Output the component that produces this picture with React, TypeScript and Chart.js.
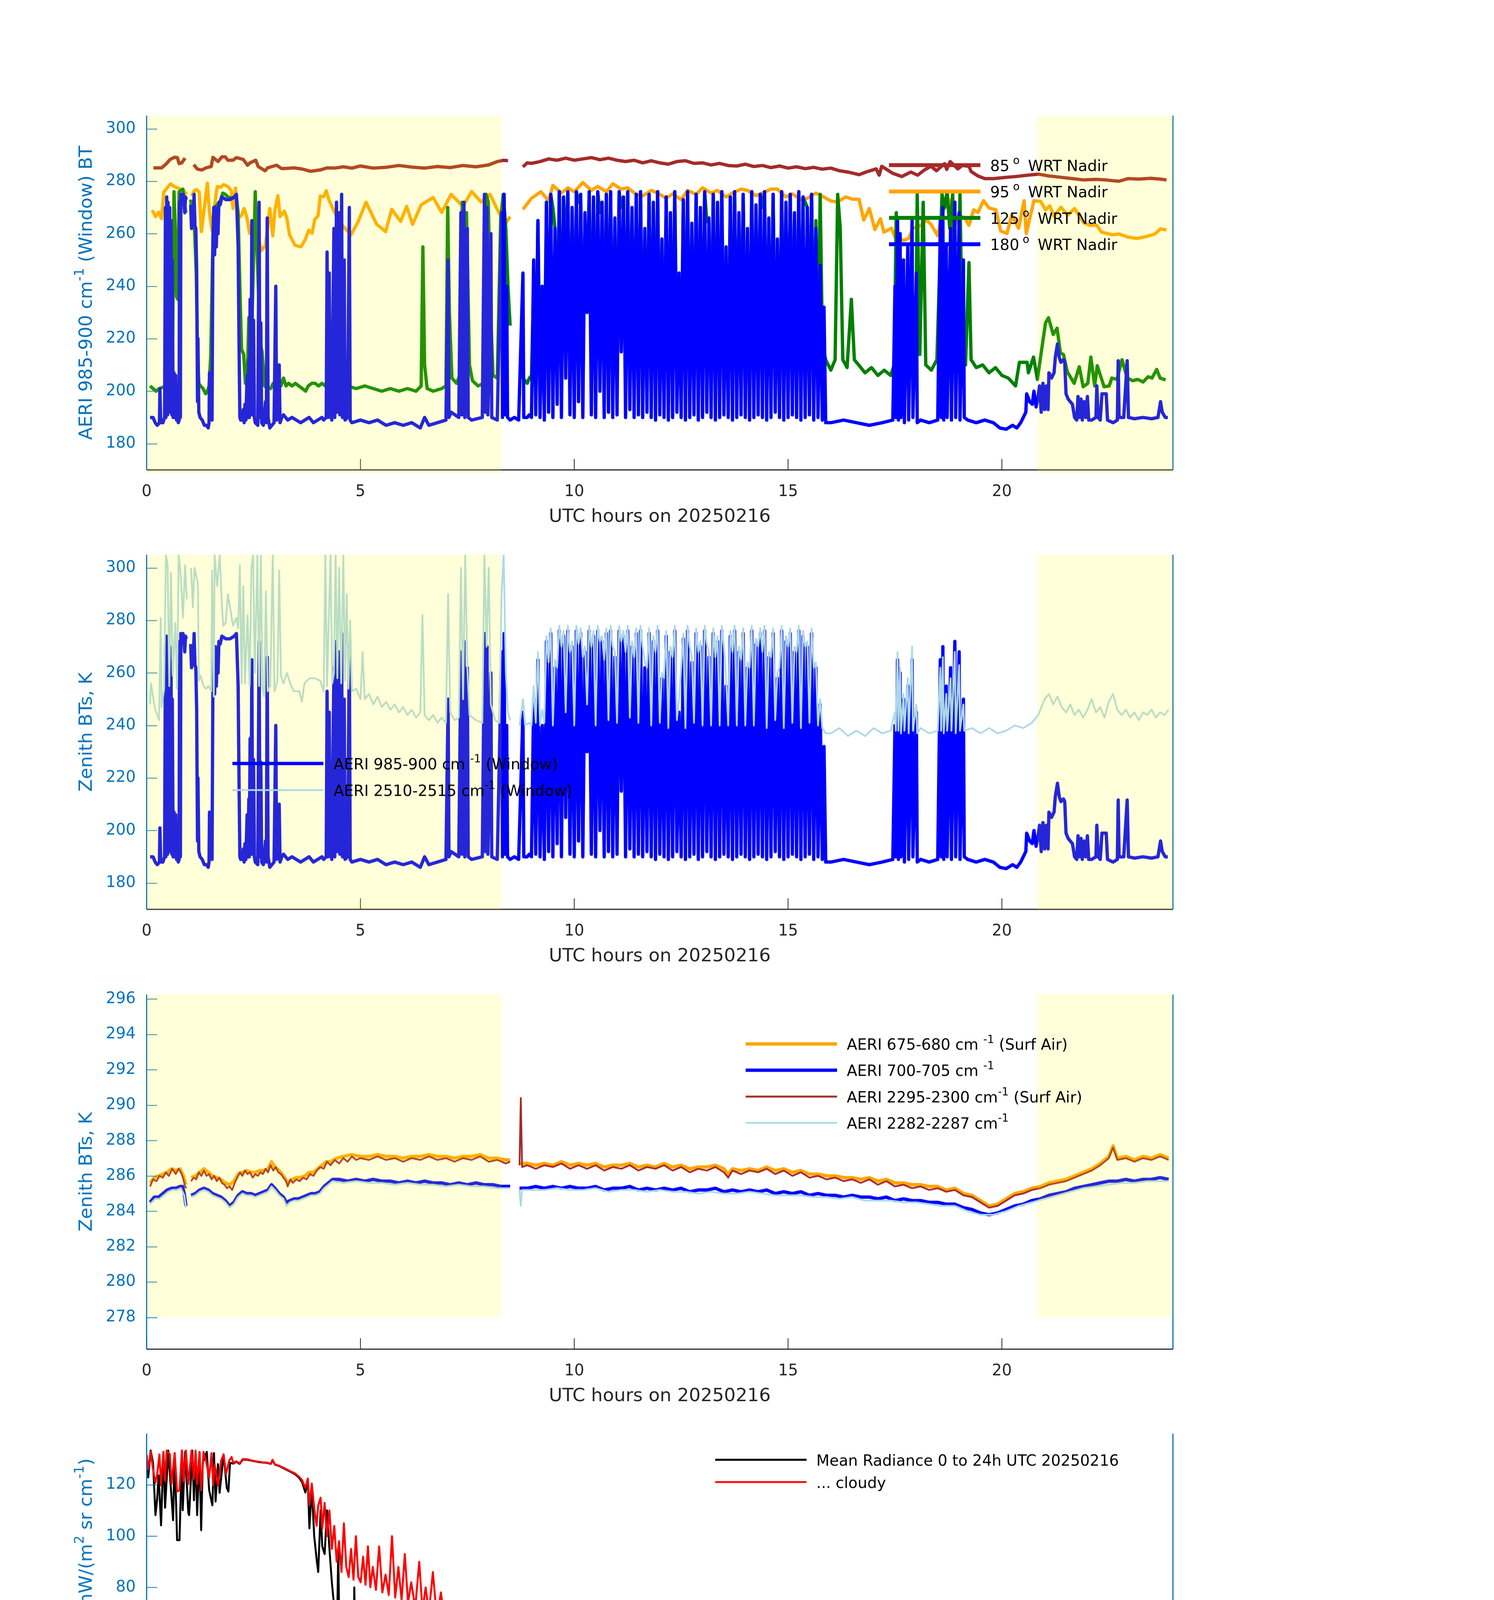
import React, { useEffect, useRef } from "react";
import { Chart, registerables } from "chart.js";
Chart.register(...registerables);

type P = [number, number | null];
type Run = { t: string; sup?: boolean };

// ---------------- Panel 1 & 2 : time series (UTC hours) ----------------
const HOUR_TICKS = [0, 5, 10, 15, 20];
const BT_TICKS = [180, 200, 220, 240, 260, 280, 300];

const bt85: P[] = [
  [0.16, 285.1], [0.35, 285.1], [0.45, 286.5], [0.55, 288.3], [0.65, 289.1], [0.72, 289], [0.76, 286.7], [0.82, 287], [0.9, 288.8], [0.96, null],
  [1.1, 286.3], [1.19, 284.6], [1.29, 284.3], [1.39, 285.1], [1.51, 285.6], [1.55, 289.1], [1.67, 287.5], [1.76, 289.3], [1.84, 289.3], [1.9, 288],
  [2.02, 288], [2.1, 289], [2.26, 288.3], [2.36, 286.1], [2.42, 287], [2.55, 288], [2.61, 285.6], [2.77, 284], [2.83, 285.1], [3.04, 286.1],
  [3.16, 284.8], [3.45, 285.1], [3.65, 284.6], [3.83, 283.8], [4.06, 284.3], [4.22, 285.1], [4.4, 285], [4.6, 285.5], [4.8, 285], [5.0, 285.8],
  [5.3, 285], [5.6, 285.3], [5.9, 286], [6.2, 285.4], [6.5, 285], [6.8, 285.6], [7.1, 285.2], [7.4, 286], [7.7, 285.5], [8.0, 286.2],
  [8.2, 287.5], [8.35, 288], [8.45, 287.8], [8.6, null],
  [8.8, 285.5], [8.9, 287], [9.0, 286.8], [9.2, 287.5], [9.4, 288.5], [9.6, 288], [9.8, 288.8], [10.0, 288], [10.2, 288.5], [10.4, 289],
  [10.6, 288.2], [10.8, 288.8], [11.0, 288], [11.2, 287.5], [11.4, 288], [11.6, 287], [11.8, 287.8], [12.0, 287], [12.2, 286.5], [12.4, 287.5],
  [12.6, 287.8], [12.8, 286.8], [13.0, 287], [13.2, 286.2], [13.4, 286.8], [13.6, 286], [13.8, 285.8], [14.0, 286.5], [14.2, 285.6], [14.4, 286],
  [14.6, 285.2], [14.8, 285.8], [15.0, 285], [15.2, 285.5], [15.4, 284.8], [15.6, 285.3], [15.8, 284.6], [16.0, 285], [16.2, 284], [16.4, 283.5],
  [16.66, 282.5], [16.82, 283.5], [17.06, 284.7], [17.13, 282.3], [17.19, 285.7], [17.45, 283], [17.66, 281.8], [17.87, 283.5], [18.03, 282.3], [18.18, 284.2],
  [18.34, 285.7], [18.47, 284], [18.66, 286.7], [18.71, 284.5], [18.79, 287.5], [18.97, 284.7], [19.07, 286], [19.23, 285.7], [19.28, 283.7], [19.44, 282],
  [19.6, 281], [19.81, 281], [20.05, 281.4], [20.33, 281.8], [20.6, 282.3], [20.86, 282.7], [21.1, 282], [21.38, 281.5], [21.65, 281], [21.91, 280.5],
  [22.2, 280.7], [22.43, 280.5], [22.6, 280.2], [22.74, 280], [22.95, 281], [23.2, 280.8], [23.48, 281.1], [23.7, 280.8], [23.85, 280.5],
];

const bt95: P[] = [
  [0.13, 269], [0.21, 266.5], [0.28, 268.2], [0.35, 265.7], [0.4, 275.8], [0.48, 277.5], [0.56, 279], [0.64, 278], [0.76, 277.2], [0.88, 276], [0.94, 275], [0.96, null],
  [1.05, 274.3], [1.12, 276.5], [1.17, 276.8], [1.23, 275.9], [1.28, 260.8], [1.35, 270], [1.42, 279.3], [1.47, 268], [1.53, 261.3], [1.6, 272],
  [1.65, 278], [1.73, 277.7], [1.8, 278.7], [1.9, 278], [1.98, 276.4], [2.02, 269.6], [2.08, 277.4], [2.14, 265.9], [2.22, 267], [2.28, 269.6],
  [2.34, 266.5], [2.41, 260.2], [2.47, 261.3], [2.55, 262.8], [2.62, 258], [2.68, 253.5], [2.78, 255.6], [2.88, 269.6], [2.95, 259.2], [3.0, 269],
  [3.07, 274.5], [3.12, 266.5], [3.22, 268.6], [3.28, 265.9], [3.34, 259.7], [3.47, 255.6], [3.61, 255], [3.71, 257.8], [3.79, 261.3], [3.87, 260.2],
  [3.93, 265.4], [4.01, 266.9], [4.06, 274.3], [4.14, 274.1], [4.2, 276.4], [4.26, 273], [4.4, 268], [4.55, 263.6], [4.78, 259.6], [4.95, 264.7],
  [5.13, 272], [5.38, 263.6], [5.59, 260.8], [5.73, 269.3], [5.94, 264.7], [6.08, 270.4], [6.22, 263.6], [6.42, 271], [6.7, 273.8], [6.9, 268.1],
  [7.12, 275], [7.4, 270.4], [7.6, 276.1], [7.82, 272.1], [8.03, 275], [8.2, 269.3], [8.38, 263.6], [8.5, 266.5], [8.6, null],
  [8.8, 269.3], [9.0, 273.5], [9.22, 276], [9.4, 272.5], [9.5, 278.4], [9.7, 275.5], [9.85, 277.5], [10.0, 276], [10.2, 279.5], [10.4, 276.5],
  [10.55, 278], [10.75, 276], [10.9, 279], [11.1, 277], [11.25, 277.5], [11.45, 275], [11.6, 274.4], [11.8, 276.5], [11.95, 275.5], [12.15, 273.5],
  [12.3, 275.2], [12.5, 273], [12.65, 276.5], [12.85, 275], [13.0, 277.5], [13.2, 275.5], [13.35, 276.5], [13.55, 274], [13.7, 275.5], [13.9, 277],
  [14.05, 276.5], [14.25, 274.5], [14.4, 275.5], [14.6, 277], [14.75, 277], [14.95, 274], [15.1, 275.2], [15.3, 273], [15.45, 273.5], [15.65, 275.5],
  [15.8, 274.3], [16.0, 272.5], [16.15, 272.1], [16.35, 274], [16.5, 273.2], [16.66, 273.1], [16.77, 265.2], [16.9, 269.6], [17.03, 261.6], [17.16, 265.7],
  [17.24, 260.6], [17.42, 262.1], [17.5, 258.7], [17.71, 257.5], [17.82, 258.2], [17.92, 262.1], [18.08, 262.9], [18.24, 265.2], [18.34, 263.6], [18.5, 259.2],
  [18.6, 267.6], [18.76, 273.1], [18.84, 259.2], [18.97, 267.1], [19.13, 266.1], [19.23, 263.2], [19.34, 269.1], [19.44, 268.1], [19.57, 272.6], [19.7, 269.8],
  [19.86, 269.1], [19.97, 261.1], [20.12, 260.1], [20.23, 267.1], [20.39, 262.1], [20.52, 272.6], [20.57, 260.1], [20.75, 272.6], [20.91, 272.3], [21.02, 269.1],
  [21.12, 270.6], [21.22, 266.6], [21.38, 270.1], [21.54, 267.1], [21.7, 269.6], [21.91, 264.2], [22.06, 263.2], [22.22, 263.2], [22.33, 260.6], [22.59, 259.6],
  [22.74, 259.9], [22.95, 258.7], [23.16, 258.2], [23.37, 258.9], [23.58, 259.9], [23.71, 261.9], [23.85, 261.4],
];

const bt125: P[] = [
  [0.08, 202], [0.15, 201], [0.22, 200], [0.3, 201], [0.38, 201.5], [0.45, 202], [0.52, 202.5], [0.58, 203], [0.61, 222], [0.64, 276], [0.67, 262],
  [0.7, 236], [0.73, 235], [0.76, 276], [0.8, 276.5], [0.85, 277], [0.88, 272], [0.92, 268], [0.96, null],
  [1.03, 273], [1.08, 266], [1.12, 262], [1.16, 245], [1.19, 215], [1.22, 203], [1.26, 202], [1.32, 201], [1.38, 199], [1.42, 200], [1.46, 202],
  [1.5, 214], [1.54, 250], [1.58, 270], [1.65, 271], [1.72, 272.5], [1.78, 275.5], [1.84, 275], [1.9, 274], [2.0, 273.5], [2.1, 274], [2.14, 268],
  [2.18, 240], [2.22, 216], [2.27, 214], [2.31, 203], [2.35, 203], [2.39, 228], [2.43, 228], [2.46, 224], [2.5, 250], [2.54, 276], [2.58, 255],
  [2.62, 236], [2.66, 218], [2.7, 215], [2.76, 202], [2.82, 201], [2.9, 201], [2.96, 203], [3.02, 200], [3.08, 204], [3.14, 202], [3.2, 205],
  [3.26, 202], [3.32, 203], [3.4, 202], [3.48, 203], [3.56, 202], [3.64, 201], [3.72, 200], [3.78, 202], [3.86, 203], [3.94, 203], [4.02, 202],
  [4.1, 203], [4.18, 202], [4.26, 206], [4.32, 203], [4.45, 202], [4.6, 205], [4.7, 202], [4.9, 201], [5.1, 202], [5.3, 201], [5.5, 200],
  [5.7, 201], [5.9, 200], [6.1, 201], [6.3, 200], [6.42, 202], [6.46, 255], [6.5, 210], [6.56, 201], [6.7, 200], [6.9, 201], [7.0, 202],
  [7.04, 270], [7.08, 230], [7.14, 205], [7.25, 203], [7.32, 206], [7.38, 272], [7.43, 245], [7.48, 268], [7.55, 210], [7.62, 204], [7.75, 202],
  [7.88, 203], [7.94, 275], [7.99, 272], [8.04, 232], [8.1, 206], [8.2, 205], [8.28, 266], [8.34, 275], [8.4, 262], [8.45, 240], [8.5, 225], [8.6, null],
  [8.75, 215], [8.8, 205], [8.9, 203], [8.95, 205],
  [9.0, 206], [9.05, 240], [9.1, 208], [9.15, 265], [9.2, 210], [9.25, 230], [9.3, 207], [9.35, 272], [9.4, 212], [9.45, 275], [9.5, 270],
  [9.55, 262], [9.6, 215], [9.65, 276], [9.7, 210], [9.75, 274], [9.8, 250], [9.85, 276], [9.9, 212], [9.95, 268], [10.0, 208], [10.05, 276],
  [10.1, 272], [10.15, 275], [10.2, 210], [10.25, 265], [10.3, 240], [10.35, 276], [10.4, 212], [10.45, 272], [10.5, 208], [10.55, 276], [10.6, 268],
  [10.65, 272], [10.7, 210], [10.75, 275], [10.8, 213], [10.85, 276], [10.9, 209], [10.95, 262], [11.0, 210], [11.05, 276], [11.1, 270], [11.15, 274],
  [11.2, 211], [11.25, 276], [11.3, 214], [11.35, 268], [11.4, 209], [11.45, 275], [11.5, 212], [11.55, 276], [11.6, 210], [11.65, 258], [11.7, 213],
  [11.75, 275], [11.8, 209], [11.85, 270], [11.9, 208], [11.95, 276], [12.0, 212], [12.05, 250], [12.1, 209], [12.15, 274], [12.2, 207], [12.25, 265],
  [12.3, 210], [12.35, 276], [12.4, 214], [12.45, 230], [12.5, 210], [12.55, 272], [12.6, 208], [12.65, 276], [12.7, 210], [12.75, 260], [12.8, 212],
  [12.85, 275], [12.9, 208], [12.95, 268], [13.0, 210], [13.05, 276], [13.1, 265], [13.15, 264], [13.2, 210], [13.25, 275], [13.3, 208], [13.35, 270],
  [13.4, 210], [13.45, 276], [13.5, 212], [13.55, 245], [13.6, 210], [13.65, 274], [13.7, 208], [13.75, 276], [13.8, 210], [13.85, 265], [13.9, 212],
  [13.95, 275], [14.0, 210], [14.05, 255], [14.1, 208], [14.15, 276], [14.2, 210], [14.25, 268], [14.3, 212], [14.35, 275], [14.4, 270], [14.45, 276],
  [14.5, 208], [14.55, 262], [14.6, 210], [14.65, 275], [14.7, 213], [14.75, 250], [14.8, 210], [14.85, 276], [14.9, 208], [14.95, 270], [15.0, 210],
  [15.05, 275], [15.1, 212], [15.15, 265], [15.2, 210], [15.25, 276], [15.3, 208], [15.35, 274], [15.4, 272], [15.45, 270], [15.5, 212], [15.55, 275],
  [15.6, 208], [15.65, 265], [15.7, 210], [15.75, 275], [15.8, 222], [15.84, 215], [15.88, 212],
  [16.0, 208], [16.1, 212], [16.16, 275], [16.22, 262], [16.28, 212], [16.38, 209], [16.48, 235], [16.55, 212], [16.65, 210], [16.8, 207], [16.95, 209],
  [17.1, 206], [17.25, 208], [17.4, 206], [17.48, 210], [17.53, 268], [17.58, 212], [17.7, 207], [17.85, 210], [17.98, 212], [18.02, 275], [18.08, 214],
  [18.16, 272], [18.22, 210], [18.35, 208], [18.48, 212], [18.56, 255], [18.6, 275], [18.66, 270], [18.72, 276], [18.78, 262], [18.85, 275], [18.9, 240],
  [18.96, 215], [19.02, 275], [19.08, 214], [19.15, 210], [19.23, 249], [19.28, 212], [19.4, 209], [19.55, 210], [19.7, 207], [19.85, 209], [20.0, 206],
  [20.15, 205], [20.32, 202], [20.41, 211], [20.59, 211], [20.62, 207], [20.74, 213], [20.83, 204.5], [21.02, 226], [21.09, 228], [21.2, 221.6],
  [21.29, 224], [21.37, 214.5], [21.44, 214], [21.53, 207.4], [21.69, 203], [21.81, 209.3], [21.9, 201.7], [22.01, 203], [22.08, 213], [22.17, 202],
  [22.23, 209.7], [22.39, 201.7], [22.51, 202], [22.57, 205], [22.69, 204.5], [22.81, 212], [22.93, 205], [23.06, 204], [23.18, 204.5], [23.3, 203.5],
  [23.42, 205.5], [23.51, 205], [23.62, 208.3], [23.7, 205], [23.83, 204.3],
];

const bt180: P[] = [
  [0.08, 190], [0.15, 190], [0.2, 188], [0.25, 187], [0.3, 188], [0.31, 201], [0.33, 188], [0.38, 188], [0.42, 190], [0.44, 270], [0.45, 190],
  [0.47, 274], [0.49, 191], [0.5, 272], [0.52, 192], [0.54, 270], [0.55, 192], [0.57, 265], [0.59, 191], [0.6, 250], [0.62, 190], [0.64, 207],
  [0.66, 190], [0.68, 206], [0.7, 189], [0.72, 190], [0.74, 188], [0.76, 189], [0.77, 272], [0.79, 190], [0.8, 275], [0.82, 274], [0.85, 275],
  [0.87, 273], [0.89, 268], [0.91, 274], [0.93, 273], [0.96, null],
  [1.03, 271], [1.05, 262], [1.07, 268], [1.09, 263], [1.11, 275], [1.13, 263], [1.15, 262], [1.17, 246], [1.19, 196], [1.2, 220], [1.22, 192],
  [1.25, 190], [1.3, 189], [1.35, 187], [1.4, 187], [1.44, 186], [1.46, 188], [1.47, 207], [1.49, 195], [1.51, 190], [1.53, 189], [1.55, 258],
  [1.57, 270], [1.59, 252], [1.61, 270], [1.63, 255], [1.65, 268], [1.67, 260], [1.69, 272], [1.72, 271], [1.76, 274], [1.85, 273], [1.95, 273],
  [2.05, 274], [2.1, 275], [2.12, 265], [2.14, 255], [2.16, 220], [2.18, 190], [2.2, 189], [2.24, 189], [2.26, 193], [2.28, 188], [2.3, 195],
  [2.32, 189], [2.35, 206], [2.37, 190], [2.39, 212], [2.4, 190], [2.42, 235], [2.44, 191], [2.46, 265], [2.48, 191], [2.5, 227], [2.52, 190],
  [2.54, 188], [2.6, 187], [2.63, 272], [2.65, 190], [2.67, 226], [2.69, 188], [2.73, 187], [2.78, 196], [2.8, 188], [2.82, 266], [2.84, 190],
  [2.88, 186], [2.93, 187], [2.98, 188], [3.02, 240], [3.04, 189], [3.08, 190], [3.1, 210], [3.12, 188], [3.16, 190], [3.2, 191], [3.3, 189],
  [3.4, 190], [3.5, 189], [3.6, 188], [3.7, 189], [3.8, 190], [3.9, 188], [4.0, 189], [4.1, 190], [4.14, 189], [4.2, 190], [4.22, 253],
  [4.24, 190], [4.27, 245], [4.29, 192], [4.33, 189], [4.38, 262], [4.4, 190], [4.44, 272], [4.46, 192], [4.5, 268], [4.52, 191], [4.56, 275],
  [4.58, 190], [4.62, 250], [4.64, 189], [4.7, 190], [4.74, 270], [4.76, 189], [4.8, 188], [5.0, 189], [5.2, 188], [5.4, 189], [5.6, 187],
  [5.8, 188], [6.0, 187], [6.2, 188], [6.4, 186], [6.5, 190], [6.6, 187], [6.8, 188], [7.0, 189], [7.05, 250], [7.07, 190], [7.12, 192],
  [7.3, 190], [7.35, 268], [7.37, 191], [7.42, 272], [7.44, 190], [7.5, 262], [7.52, 190], [7.6, 189], [7.85, 190], [7.9, 275], [7.92, 192],
  [7.96, 270], [7.98, 191], [8.05, 260], [8.07, 190], [8.2, 189], [8.3, 268], [8.32, 190], [8.36, 275], [8.38, 191], [8.42, 240], [8.44, 190],
  [8.5, 189], [8.6, 190], [8.7, 189], [8.8, 245], [8.82, 190], [8.9, 190], [8.95, 191],
  [9.0, 190], [9.05, 250], [9.1, 191], [9.15, 265], [9.2, 190], [9.25, 240], [9.3, 189], [9.35, 272], [9.4, 192], [9.45, 275], [9.5, 190],
  [9.55, 262], [9.6, 195], [9.65, 276], [9.7, 190], [9.75, 274], [9.8, 205], [9.85, 276], [9.9, 191], [9.95, 270], [10.0, 190], [10.05, 276],
  [10.1, 196], [10.15, 275], [10.2, 190], [10.25, 268], [10.3, 230], [10.35, 276], [10.4, 191], [10.45, 274], [10.5, 190], [10.55, 276], [10.6, 200],
  [10.65, 272], [10.7, 190], [10.75, 275], [10.8, 192], [10.85, 276], [10.9, 190], [10.95, 266], [11.0, 191], [11.05, 276], [11.1, 215], [11.15, 274],
  [11.2, 190], [11.25, 276], [11.3, 193], [11.35, 270], [11.4, 190], [11.45, 275], [11.5, 191], [11.55, 276], [11.6, 190], [11.65, 262], [11.7, 192],
  [11.75, 275], [11.8, 190], [11.85, 272], [11.9, 189], [11.95, 276], [12.0, 191], [12.05, 258], [12.1, 190], [12.15, 274], [12.2, 189], [12.25, 268],
  [12.3, 190], [12.35, 276], [12.4, 192], [12.45, 245], [12.5, 190], [12.55, 273], [12.6, 189], [12.65, 276], [12.7, 190], [12.75, 264], [12.8, 191],
  [12.85, 275], [12.9, 189], [12.95, 270], [13.0, 190], [13.05, 276], [13.1, 192], [13.15, 266], [13.2, 190], [13.25, 275], [13.3, 189], [13.35, 272],
  [13.4, 190], [13.45, 276], [13.5, 191], [13.55, 255], [13.6, 190], [13.65, 274], [13.7, 189], [13.75, 276], [13.8, 190], [13.85, 268], [13.9, 191],
  [13.95, 275], [14.0, 190], [14.05, 262], [14.1, 189], [14.15, 276], [14.2, 190], [14.25, 271], [14.3, 191], [14.35, 275], [14.4, 190], [14.45, 276],
  [14.5, 189], [14.55, 266], [14.6, 190], [14.65, 275], [14.7, 192], [14.75, 258], [14.8, 190], [14.85, 276], [14.9, 189], [14.95, 272], [15.0, 190],
  [15.05, 275], [15.1, 191], [15.15, 268], [15.2, 190], [15.25, 276], [15.3, 189], [15.35, 274], [15.4, 190], [15.45, 270], [15.5, 191], [15.55, 275],
  [15.6, 189], [15.65, 262], [15.7, 190], [15.75, 248], [15.8, 189], [15.84, 232], [15.88, 188],
  [16.0, 188], [16.3, 189], [16.6, 188], [16.9, 187], [17.2, 188], [17.45, 189], [17.5, 240], [17.52, 190], [17.56, 265], [17.58, 189], [17.62, 260],
  [17.64, 190], [17.7, 250], [17.72, 188], [17.8, 255], [17.82, 189], [17.9, 265], [17.92, 190], [18.0, 245], [18.02, 188], [18.1, 189], [18.3, 188],
  [18.5, 189], [18.56, 265], [18.58, 190], [18.62, 270], [18.64, 189], [18.7, 255], [18.72, 190], [18.8, 262], [18.82, 189], [18.9, 272], [18.92, 190],
  [19.0, 268], [19.02, 189], [19.1, 250], [19.12, 190], [19.2, 189], [19.4, 188], [19.6, 189], [19.8, 188], [19.95, 186], [20.1, 185.5], [20.25, 187],
  [20.35, 186], [20.44, 188], [20.5, 190], [20.56, 192], [20.58, 199], [20.65, 196], [20.71, 195], [20.75, 200], [20.8, 194], [20.85, 198], [20.88, 202],
  [20.92, 192], [20.96, 203], [21.0, 193], [21.04, 202], [21.08, 193], [21.1, 207], [21.16, 205], [21.22, 207], [21.25, 213], [21.3, 218], [21.34, 213],
  [21.38, 211], [21.44, 212], [21.47, 211], [21.5, 199], [21.55, 197], [21.6, 196], [21.65, 195], [21.7, 190], [21.75, 189], [21.78, 198], [21.81, 190],
  [21.85, 197], [21.88, 189], [21.92, 196], [21.96, 190], [22.0, 198], [22.03, 189], [22.1, 189], [22.2, 190], [22.22, 202], [22.25, 190], [22.3, 189],
  [22.34, 199], [22.44, 199], [22.47, 189], [22.6, 188], [22.7, 189], [22.72, 211.6], [22.74, 190], [22.85, 190], [22.93, 211.6], [22.96, 190], [23.1, 189.5],
  [23.3, 190], [23.5, 189.5], [23.65, 190], [23.71, 196], [23.75, 192], [23.82, 190], [23.88, 190],
];

const bt2510: P[] = [
  [0.08, 248], [0.1, 256], [0.15, 251], [0.2, 246], [0.25, 244], [0.29, 242], [0.33, 281], [0.35, 247], [0.41, 254], [0.45, 305], [0.49, 301],
  [0.53, 255], [0.57, 298], [0.61, 259], [0.67, 279], [0.71, 254], [0.75, 305], [0.79, 299], [0.85, 281], [0.9, 301], [0.94, 288], [0.96, null],
  [1.04, 300], [1.08, 285], [1.12, 300], [1.2, 294], [1.22, 257], [1.26, 259], [1.33, 255], [1.39, 254], [1.45, 255], [1.51, 253], [1.53, 299],
  [1.57, 251], [1.59, 305], [1.65, 293], [1.71, 305], [1.75, 289], [1.79, 278], [1.85, 279], [1.9, 290], [1.96, 284], [2.02, 278], [2.1, 281],
  [2.14, 277], [2.18, 301], [2.22, 256], [2.26, 293], [2.3, 256], [2.36, 282], [2.41, 255], [2.45, 300], [2.49, 305], [2.53, 260], [2.59, 305],
  [2.63, 255], [2.67, 305], [2.71, 254], [2.75, 251], [2.79, 291], [2.83, 253], [2.89, 255], [2.95, 305], [2.99, 253], [3.06, 257], [3.1, 299],
  [3.14, 259], [3.2, 256], [3.28, 260], [3.36, 256], [3.44, 253], [3.57, 253], [3.63, 249], [3.69, 256], [3.81, 258], [3.93, 258], [4.06, 257],
  [4.14, 253], [4.18, 305], [4.22, 255], [4.3, 305], [4.34, 256], [4.38, 260], [4.42, 305], [4.46, 258], [4.5, 300], [4.55, 256], [4.6, 305],
  [4.64, 257], [4.68, 290], [4.72, 254], [4.76, 280], [4.8, 253], [4.9, 254], [5.0, 250], [5.05, 268], [5.1, 250], [5.2, 252], [5.3, 248],
  [5.4, 251], [5.5, 247], [5.6, 249], [5.7, 246], [5.8, 248], [5.9, 245], [6.0, 247], [6.1, 244], [6.2, 246], [6.3, 243], [6.4, 245],
  [6.45, 282], [6.5, 244], [6.6, 242], [6.7, 244], [6.8, 241], [6.9, 243], [7.0, 241], [7.05, 290], [7.1, 245], [7.2, 242], [7.3, 243],
  [7.35, 300], [7.4, 250], [7.45, 305], [7.5, 262], [7.55, 244], [7.7, 242], [7.85, 241], [7.9, 305], [7.95, 270], [8.0, 300], [8.05, 248],
  [8.15, 242], [8.25, 241], [8.3, 290], [8.35, 305], [8.4, 260], [8.45, 245], [8.5, 242], [8.6, null],
  [8.72, 240], [8.8, 250], [8.85, 240], [8.95, 241],
  [9.0, 240], [9.05, 255], [9.1, 241], [9.15, 268], [9.2, 240], [9.25, 246], [9.3, 241], [9.35, 274], [9.4, 264], [9.45, 277], [9.5, 240],
  [9.55, 265], [9.6, 262], [9.65, 278], [9.7, 270], [9.75, 276], [9.8, 245], [9.85, 278], [9.9, 268], [9.95, 272], [10.0, 240], [10.05, 278],
  [10.1, 271], [10.15, 277], [10.2, 266], [10.25, 270], [10.3, 248], [10.35, 278], [10.4, 270], [10.45, 276], [10.5, 240], [10.55, 278], [10.6, 272],
  [10.65, 274], [10.7, 265], [10.75, 277], [10.8, 242], [10.85, 278], [10.9, 270], [10.95, 268], [11.0, 241], [11.05, 278], [11.1, 272], [11.15, 276],
  [11.2, 268], [11.25, 278], [11.3, 243], [11.35, 272], [11.4, 266], [11.45, 277], [11.5, 241], [11.55, 278], [11.6, 270], [11.65, 264], [11.7, 262],
  [11.75, 277], [11.8, 240], [11.85, 274], [11.9, 268], [11.95, 278], [12.0, 241], [12.05, 260], [12.1, 258], [12.15, 276], [12.2, 239], [12.25, 270],
  [12.3, 266], [12.35, 278], [12.4, 242], [12.45, 250], [12.5, 262], [12.55, 275], [12.6, 239], [12.65, 278], [12.7, 270], [12.75, 266], [12.8, 241],
  [12.85, 277], [12.9, 268], [12.95, 272], [13.0, 240], [13.05, 278], [13.1, 271], [13.15, 268], [13.2, 240], [13.25, 277], [13.3, 266], [13.35, 274],
  [13.4, 240], [13.45, 278], [13.5, 270], [13.55, 258], [13.6, 240], [13.65, 276], [13.7, 268], [13.75, 278], [13.8, 240], [13.85, 270], [13.9, 265],
  [13.95, 277], [14.0, 240], [14.05, 264], [14.1, 262], [14.15, 278], [14.2, 240], [14.25, 273], [14.3, 270], [14.35, 277], [14.4, 268], [14.45, 278],
  [14.5, 239], [14.55, 268], [14.6, 266], [14.65, 277], [14.7, 242], [14.75, 260], [14.8, 262], [14.85, 278], [14.9, 239], [14.95, 274], [15.0, 270],
  [15.05, 277], [15.1, 241], [15.15, 270], [15.2, 268], [15.25, 278], [15.3, 239], [15.35, 276], [15.4, 270], [15.45, 272], [15.5, 241], [15.55, 277],
  [15.6, 262], [15.65, 264], [15.7, 240], [15.75, 250], [15.8, 239], [15.84, 238], [15.88, 237],
  [16.0, 237], [16.2, 239], [16.4, 236], [16.6, 238], [16.8, 236], [17.0, 239], [17.2, 237], [17.4, 238], [17.5, 245], [17.52, 238], [17.56, 268],
  [17.58, 238], [17.62, 262], [17.64, 237], [17.7, 252], [17.72, 238], [17.8, 258], [17.82, 237], [17.9, 270], [17.92, 238], [18.0, 248], [18.02, 237],
  [18.1, 239], [18.3, 237], [18.5, 238], [18.56, 262], [18.58, 238], [18.62, 266], [18.64, 237], [18.7, 252], [18.72, 238], [18.8, 258], [18.82, 238],
  [18.9, 268], [18.92, 237], [19.0, 263], [19.02, 238], [19.1, 248], [19.12, 238], [19.3, 239], [19.5, 237], [19.7, 239], [19.9, 237], [20.1, 238],
  [20.3, 240], [20.5, 239], [20.7, 241], [20.85, 244], [21.0, 250], [21.1, 252], [21.2, 248], [21.3, 251], [21.4, 247], [21.5, 245], [21.6, 248],
  [21.7, 244], [21.8, 246], [21.9, 243], [22.0, 246], [22.1, 250], [22.2, 245], [22.3, 247], [22.4, 243], [22.5, 249], [22.6, 252], [22.7, 246],
  [22.8, 244], [22.9, 246], [23.0, 243], [23.1, 245], [23.2, 242], [23.3, 245], [23.4, 244], [23.5, 246], [23.6, 243], [23.7, 245], [23.8, 244], [23.9, 246],
];

// ---------------- Panel 3 : surface-air channels ----------------
const SFC_TICKS = [278, 280, 282, 284, 286, 288, 290, 292, 294, 296];

const bt675: P[] = [
  [0.08, 285.6], [0.18, 285.9], [0.28, 286.0], [0.38, 286.1], [0.48, 286.2], [0.58, 286.4], [0.68, 286.3], [0.78, 286.4], [0.86, 286.0], [0.92, 285.5], [0.97, null],
  [1.04, 285.9], [1.14, 286.0], [1.24, 286.2], [1.34, 286.4], [1.44, 286.2], [1.54, 286.0], [1.64, 285.9], [1.74, 285.8], [1.84, 285.6], [1.94, 285.5],
  [2.04, 285.7], [2.14, 286.1], [2.24, 286.2], [2.34, 286.3], [2.44, 286.2], [2.54, 286.2], [2.64, 286.3], [2.74, 286.3], [2.84, 286.4], [2.92, 286.8],
  [3.0, 286.5], [3.1, 286.3], [3.2, 286.0], [3.3, 285.6], [3.4, 285.8], [3.5, 285.9], [3.6, 285.9], [3.7, 286.0], [3.8, 286.2], [3.9, 286.2],
  [4.0, 286.4], [4.1, 286.6], [4.2, 286.8], [4.3, 286.8], [4.45, 287.0], [4.6, 287.1], [4.8, 287.2], [5.0, 287.1], [5.2, 287.1], [5.4, 287.2],
  [5.6, 287.1], [5.8, 287.1], [6.0, 287.0], [6.2, 287.1], [6.4, 287.1], [6.6, 287.2], [6.8, 287.1], [7.0, 287.1], [7.2, 287.0], [7.4, 287.1],
  [7.6, 287.1], [7.8, 287.2], [8.0, 287.0], [8.2, 287.0], [8.4, 286.9], [8.5, 286.9], [8.6, null],
  [8.72, 286.7], [8.9, 286.7], [9.1, 286.6], [9.3, 286.7], [9.5, 286.6], [9.7, 286.8], [9.9, 286.6], [10.1, 286.7], [10.3, 286.6], [10.5, 286.7],
  [10.7, 286.5], [10.9, 286.6], [11.1, 286.6], [11.3, 286.7], [11.5, 286.5], [11.7, 286.6], [11.9, 286.5], [12.1, 286.7], [12.3, 286.5], [12.5, 286.6],
  [12.7, 286.4], [12.9, 286.5], [13.1, 286.5], [13.3, 286.6], [13.5, 286.4], [13.6, 286.1], [13.7, 286.4], [13.9, 286.3], [14.1, 286.4], [14.3, 286.3],
  [14.5, 286.5], [14.7, 286.3], [14.9, 286.4], [15.1, 286.2], [15.3, 286.3], [15.5, 286.1], [15.7, 286.1], [15.9, 286.0], [16.1, 286.0], [16.3, 285.9],
  [16.5, 285.9], [16.7, 285.8], [16.9, 285.9], [17.1, 285.7], [17.3, 285.8], [17.5, 285.6], [17.7, 285.6], [17.9, 285.5], [18.1, 285.5], [18.3, 285.4],
  [18.5, 285.4], [18.7, 285.2], [18.9, 285.3], [19.1, 285.0], [19.3, 284.9], [19.5, 284.6], [19.7, 284.3], [19.9, 284.4], [20.1, 284.7], [20.3, 285.0],
  [20.5, 285.1], [20.7, 285.3], [20.9, 285.4], [21.1, 285.6], [21.3, 285.7], [21.5, 285.8], [21.7, 286.0], [21.9, 286.2], [22.1, 286.4], [22.3, 286.7],
  [22.5, 287.1], [22.6, 287.7], [22.7, 287.0], [22.9, 287.1], [23.1, 286.9], [23.3, 287.1], [23.5, 287.0], [23.7, 287.2], [23.9, 287.0],
];

const bt700: P[] = [
  [0.08, 284.5], [0.18, 284.8], [0.28, 284.8], [0.38, 285.0], [0.48, 285.2], [0.58, 285.3], [0.68, 285.3], [0.78, 285.4], [0.84, 285.4], [0.88, 285.0], [0.92, 284.3], [0.97, null],
  [1.04, 284.9], [1.14, 285.0], [1.24, 285.2], [1.34, 285.3], [1.44, 285.2], [1.54, 285.0], [1.64, 284.9], [1.74, 284.8], [1.84, 284.6], [1.94, 284.3],
  [2.04, 284.5], [2.14, 284.9], [2.24, 285.1], [2.34, 285.0], [2.44, 285.0], [2.54, 284.9], [2.64, 285.0], [2.74, 285.1], [2.84, 285.2], [2.92, 285.5],
  [3.0, 285.3], [3.1, 285.0], [3.2, 284.8], [3.27, 284.5], [3.35, 284.6], [3.45, 284.7], [3.55, 284.7], [3.65, 284.8], [3.75, 284.9], [3.85, 285.0],
  [3.95, 285.0], [4.05, 285.1], [4.15, 285.4], [4.25, 285.6], [4.35, 285.8], [4.5, 285.8], [4.7, 285.7], [4.9, 285.8], [5.1, 285.7], [5.3, 285.8],
  [5.5, 285.7], [5.7, 285.7], [5.9, 285.6], [6.1, 285.7], [6.3, 285.6], [6.5, 285.7], [6.7, 285.6], [6.9, 285.6], [7.1, 285.5], [7.3, 285.6],
  [7.5, 285.5], [7.7, 285.6], [7.9, 285.5], [8.1, 285.5], [8.3, 285.4], [8.5, 285.4], [8.6, null],
  [8.72, 285.3], [8.9, 285.3], [9.1, 285.4], [9.3, 285.3], [9.5, 285.4], [9.7, 285.3], [9.9, 285.4], [10.1, 285.3], [10.3, 285.3], [10.5, 285.4],
  [10.7, 285.2], [10.9, 285.3], [11.1, 285.3], [11.3, 285.4], [11.5, 285.2], [11.7, 285.3], [11.9, 285.2], [12.1, 285.3], [12.3, 285.2], [12.5, 285.3],
  [12.7, 285.1], [12.9, 285.2], [13.1, 285.2], [13.3, 285.3], [13.5, 285.1], [13.7, 285.2], [13.9, 285.1], [14.1, 285.2], [14.3, 285.1], [14.5, 285.2],
  [14.7, 285.0], [14.9, 285.1], [15.1, 285.0], [15.3, 285.1], [15.5, 284.9], [15.7, 285.0], [15.9, 284.9], [16.1, 284.9], [16.3, 284.8], [16.5, 284.9],
  [16.7, 284.8], [16.9, 284.8], [17.1, 284.7], [17.3, 284.8], [17.5, 284.6], [17.7, 284.7], [17.9, 284.6], [18.1, 284.6], [18.3, 284.5], [18.5, 284.5],
  [18.7, 284.4], [18.9, 284.4], [19.1, 284.2], [19.3, 284.1], [19.5, 283.9], [19.7, 283.8], [19.9, 283.9], [20.1, 284.1], [20.3, 284.3], [20.5, 284.4],
  [20.7, 284.6], [20.9, 284.7], [21.1, 284.9], [21.3, 285.0], [21.5, 285.1], [21.7, 285.3], [21.9, 285.4], [22.1, 285.5], [22.3, 285.6], [22.5, 285.7],
  [22.7, 285.7], [22.9, 285.8], [23.1, 285.7], [23.3, 285.8], [23.5, 285.8], [23.7, 285.9], [23.9, 285.8],
];

const bt2295: P[] = [
  [0.08, 285.4], [0.15, 285.8], [0.23, 285.7], [0.3, 286.0], [0.38, 285.9], [0.45, 286.2], [0.52, 286.0], [0.6, 286.4], [0.68, 286.1], [0.75, 286.4],
  [0.8, 286.2], [0.85, 285.9], [0.9, 285.4], [0.93, 285.3], [0.97, null],
  [1.04, 285.7], [1.1, 285.9], [1.16, 285.8], [1.22, 286.2], [1.28, 286.0], [1.34, 286.3], [1.4, 286.0], [1.46, 286.1], [1.52, 285.8], [1.58, 286.0],
  [1.64, 285.7], [1.7, 285.9], [1.76, 285.6], [1.82, 285.5], [1.88, 285.3], [1.94, 285.4], [2.0, 285.2], [2.06, 285.6], [2.12, 285.9], [2.18, 286.2],
  [2.24, 286.0], [2.3, 286.3], [2.36, 286.1], [2.42, 286.2], [2.48, 285.9], [2.54, 286.1], [2.6, 286.0], [2.66, 286.2], [2.72, 286.1], [2.78, 286.4],
  [2.84, 286.2], [2.9, 286.6], [2.96, 286.3], [3.02, 286.5], [3.08, 286.2], [3.14, 286.1], [3.2, 285.9], [3.26, 285.7], [3.3, 285.4], [3.36, 285.8],
  [3.42, 285.6], [3.5, 285.8], [3.58, 285.7], [3.66, 285.9], [3.74, 285.8], [3.82, 286.1], [3.9, 286.0], [3.98, 286.3], [4.06, 286.5], [4.14, 286.4],
  [4.22, 286.8], [4.3, 286.6], [4.4, 286.9], [4.5, 286.7], [4.6, 287.0], [4.7, 286.8], [4.8, 287.1], [4.9, 286.9], [5.0, 287.0], [5.2, 286.9],
  [5.4, 287.1], [5.6, 286.9], [5.8, 287.0], [6.0, 286.8], [6.2, 287.0], [6.4, 286.9], [6.6, 287.1], [6.8, 286.9], [7.0, 287.0], [7.2, 286.8],
  [7.4, 287.0], [7.6, 286.9], [7.8, 287.1], [8.0, 286.8], [8.2, 286.9], [8.4, 286.7], [8.5, 286.8], [8.6, null],
  [8.72, 286.6], [8.75, 290.4], [8.78, 286.5], [8.9, 286.6], [9.1, 286.4], [9.3, 286.6], [9.5, 286.5], [9.7, 286.7], [9.9, 286.4], [10.1, 286.6],
  [10.3, 286.4], [10.5, 286.6], [10.7, 286.3], [10.9, 286.5], [11.1, 286.4], [11.3, 286.6], [11.5, 286.3], [11.7, 286.5], [11.9, 286.4], [12.1, 286.6],
  [12.3, 286.3], [12.5, 286.5], [12.7, 286.2], [12.9, 286.4], [13.1, 286.3], [13.3, 286.5], [13.5, 286.2], [13.6, 285.9], [13.7, 286.3], [13.9, 286.1],
  [14.1, 286.3], [14.3, 286.2], [14.5, 286.4], [14.7, 286.1], [14.9, 286.3], [15.1, 286.0], [15.3, 286.2], [15.5, 285.9], [15.7, 286.0], [15.9, 285.8],
  [16.1, 285.9], [16.3, 285.7], [16.5, 285.8], [16.7, 285.6], [16.9, 285.8], [17.1, 285.5], [17.3, 285.7], [17.5, 285.4], [17.7, 285.5], [17.9, 285.3],
  [18.1, 285.4], [18.3, 285.2], [18.5, 285.3], [18.7, 285.1], [18.9, 285.2], [19.1, 284.9], [19.3, 284.8], [19.5, 284.5], [19.7, 284.2], [19.9, 284.3],
  [20.1, 284.6], [20.3, 284.9], [20.5, 285.0], [20.7, 285.2], [20.9, 285.3], [21.1, 285.5], [21.3, 285.6], [21.5, 285.7], [21.7, 285.9], [21.9, 286.1],
  [22.1, 286.3], [22.3, 286.6], [22.5, 287.0], [22.6, 287.6], [22.7, 286.9], [22.9, 287.0], [23.1, 286.8], [23.3, 287.0], [23.5, 286.9], [23.7, 287.1], [23.9, 286.9],
];

const bt2282: P[] = [
  [0.08, 284.4], [0.2, 284.7], [0.3, 284.7], [0.4, 284.9], [0.5, 285.1], [0.6, 285.2], [0.7, 285.2], [0.8, 285.3], [0.88, 284.9], [0.92, 284.2], [0.97, null],
  [1.04, 284.8], [1.14, 284.9], [1.24, 285.1], [1.34, 285.2], [1.44, 285.1], [1.54, 284.9], [1.64, 284.8], [1.74, 284.7], [1.84, 284.5], [1.94, 284.2],
  [2.04, 284.4], [2.14, 284.8], [2.24, 285.0], [2.34, 284.9], [2.44, 284.9], [2.54, 284.8], [2.64, 284.9], [2.74, 285.0], [2.84, 285.1], [2.92, 285.4],
  [3.0, 285.2], [3.1, 284.9], [3.2, 284.7], [3.27, 284.3], [3.35, 284.5], [3.45, 284.6], [3.55, 284.6], [3.65, 284.7], [3.75, 284.8], [3.85, 284.9],
  [3.95, 284.9], [4.05, 285.0], [4.15, 285.3], [4.25, 285.5], [4.35, 285.7], [4.6, 285.6], [4.9, 285.7], [5.2, 285.6], [5.5, 285.6], [5.8, 285.5],
  [6.1, 285.6], [6.4, 285.5], [6.7, 285.5], [7.0, 285.4], [7.3, 285.5], [7.6, 285.4], [7.9, 285.4], [8.2, 285.3], [8.5, 285.3], [8.6, null],
  [8.72, 285.2], [8.75, 284.3], [8.78, 285.2], [9.0, 285.2], [9.3, 285.2], [9.6, 285.3], [9.9, 285.2], [10.2, 285.2], [10.5, 285.3], [10.8, 285.1],
  [11.1, 285.2], [11.4, 285.2], [11.7, 285.1], [12.0, 285.2], [12.3, 285.1], [12.6, 285.1], [12.9, 285.0], [13.2, 285.1], [13.5, 285.0], [13.8, 285.0],
  [14.1, 285.1], [14.4, 285.0], [14.7, 284.9], [15.0, 284.9], [15.3, 284.9], [15.6, 284.8], [15.9, 284.8], [16.2, 284.7], [16.5, 284.8], [16.8, 284.6],
  [17.1, 284.6], [17.4, 284.6], [17.7, 284.5], [18.0, 284.5], [18.3, 284.4], [18.6, 284.3], [18.9, 284.3], [19.2, 284.0], [19.5, 283.8], [19.8, 283.8],
  [20.1, 284.0], [20.4, 284.3], [20.7, 284.5], [21.0, 284.7], [21.3, 284.9], [21.6, 285.1], [21.9, 285.3], [22.2, 285.4], [22.5, 285.5], [22.8, 285.6],
  [23.1, 285.6], [23.4, 285.7], [23.7, 285.7], [23.9, 285.7],
];

// ---------------- Panel 4 : mean radiance 520-1800 cm-1 ----------------
const WN1_TICKS = [600, 800, 1000, 1200, 1400, 1600, 1800];
const RAD1_TICKS = [20, 40, 60, 80, 100, 120];

const radMean1: P[] = [
  [520, 131.5], [522, 122.9], [525, 133.4], [528, 128.6], [531, 108.2], [533, 114], [535, 123.7], [538, 104.2], [541, 132.9], [543, 111.1],
  [547, 133.4], [549, 124.2], [553, 106.2], [555, 132.4], [558, 98.4], [561, 98.4], [564, 133.4], [565, 110.1], [568, 132.9], [572, 109.1],
  [573, 108.2], [577, 133.4], [579, 114], [581, 132.9], [583, 108.2], [586, 132.4], [588, 102.3], [590, 128.6], [595, 132.9], [598, 117.9],
  [602, 112], [604, 132.4], [606, 113.5], [609, 128.1], [611, 116.9], [616, 131.9], [620, 118.8], [622, 117.4], [624, 128.6], [628, 128.3],
  [632, 129], [636, 128.2], [640, 129.9], [645, 129.8], [650, 129.5], [655, 129.2], [660, 128.9], [665, 128.7], [670, 128.6], [675, 128.2],
  [677, 129.6], [680, 127.9], [685, 127.4], [690, 126.6], [695, 125.8], [700, 125.0], [705, 124.2], [710, 122.8], [714, 121], [718, 117],
  [721, 122], [723, 103], [726, 119], [729, 100], [732, 91], [734, 86], [737, 110], [739, 96], [742, 93], [745, 110], [748, 95], [751, 82],
  [754, 72], [757, 52], [759, 95], [761, 45], [763, 38], [765, 70], [767, 40], [769, 35], [771, 62], [773, 33], [775, 45], [777, 32],
  [779, 80], [781, 34], [783, 31], [785, 55], [787, 30], [790, 38], [793, 29], [796, 70], [798, 30], [801, 28], [804, 50], [807, 27],
  [810, 40], [813, 27], [816, 60], [819, 26], [822, 35], [825, 26], [828, 46], [831, 25], [835, 32], [838, 25], [841, 55], [844, 24.5],
  [848, 30], [852, 24], [856, 42], [860, 23.5], [864, 28], [868, 23], [872, 38], [876, 22.5], [880, 26], [884, 22], [888, 35], [892, 21.8],
  [896, 25], [900, 21.5], [905, 32], [910, 21], [915, 24], [920, 20.8], [925, 28], [930, 20.5], [935, 22], [940, 20.2], [945, 26], [950, 19.8],
  [955, 18], [960, 20], [965, 17.5], [970, 19.5], [975, 24], [980, 19], [985, 17], [990, 21], [995, 23], [1000, 25], [1005, 23], [1010, 27],
  [1015, 25], [1020, 29], [1025, 27], [1030, 30], [1035, 28], [1040, 31], [1045, 29], [1050, 32], [1055, 28], [1060, 30], [1065, 24], [1070, 21],
  [1075, 17], [1080, 15], [1085, 30], [1090, 14], [1095, 20], [1100, 13.5], [1105, 12.8], [1110, 35], [1115, 13], [1120, 12.5], [1125, 28],
  [1130, 12.2], [1135, 12], [1140, 38], [1145, 12], [1150, 11.8], [1155, 24], [1160, 11.8], [1165, 12], [1170, 40], [1175, 12], [1180, 12.2],
  [1185, 30], [1190, 12.5], [1195, 13], [1200, 45], [1205, 13.5], [1210, 14], [1215, 26], [1220, 14.5], [1225, 15], [1230, 38], [1235, 16],
  [1240, 17], [1245, 30], [1250, 19], [1255, 22], [1260, 35], [1265, 24], [1270, 27], [1275, 33], [1280, 28], [1285, 30], [1290, 34], [1295, 31],
  [1300, 32], [1310, 30], [1320, 32.5], [1328, 30], [1335, 31.5], [1340, 29.9], [1350, 29.3], [1400, 26.8], [1500, 22.4], [1600, 17.2],
  [1700, 12.2], [1800, 7.6],
];

const radCloudy1: P[] = [
  [520, 131.7], [522, 126.1], [525, 132.9], [528, 126.1], [531, 120.8], [533, 123.7], [536, 131.9], [538, 119.8], [541, 132.9], [543, 121.8],
  [545, 133.4], [549, 131.9], [551, 120.3], [555, 132.4], [558, 117.4], [561, 117.9], [564, 133.4], [566, 121.3], [569, 133.4], [572, 120.3],
  [576, 133.4], [579, 122.3], [581, 133.4], [583, 120.3], [586, 132.9], [588, 117.9], [591, 132.9], [594, 129.5], [598, 122.8], [601, 132.4],
  [603, 119.8], [605, 127.6], [609, 119.8], [613, 129.5], [616, 131.9], [619, 124.2], [623, 129.5], [626, 130.9], [628, 128.6], [632, 129.2],
  [636, 128.4], [640, 130.1], [645, 130.0], [650, 129.6], [655, 129.3], [660, 129.0], [665, 128.8], [670, 128.7], [675, 128.3], [677, 129.8],
  [680, 128.0], [685, 127.5], [690, 126.8], [695, 126.0], [700, 125.2], [705, 124.5], [710, 123.2], [714, 121.8], [718, 118.8], [721, 122.5],
  [723, 112], [726, 120.5], [729, 111], [732, 104], [734, 112], [737, 115], [739, 103], [742, 113], [745, 100], [748, 110], [751, 95], [754, 104],
  [757, 90], [760, 98], [763, 86], [766, 105], [769, 88], [772, 84], [775, 95], [778, 83], [781, 100], [784, 84], [787, 82], [790, 92], [793, 81],
  [796, 96], [799, 80], [802, 88], [806, 79], [810, 96], [814, 78], [818, 85], [822, 77], [826, 100], [830, 76], [834, 88], [838, 75], [842, 93],
  [846, 74], [850, 82], [855, 72], [860, 90], [864, 71], [868, 80], [872, 70], [877, 86], [882, 68], [887, 78], [892, 66], [897, 74], [902, 64],
  [908, 72], [914, 62], [920, 68], [926, 60], [932, 66], [938, 58], [944, 62], [950, 55], [956, 60], [962, 52], [968, 56], [974, 49.5], [980, 48],
  [986, 52], [992, 47], [998, 46.5], [1004, 50], [1010, 46], [1016, 45.5], [1022, 48], [1028, 45], [1034, 44.2], [1040, 47], [1046, 43.5],
  [1052, 43], [1058, 45], [1064, 42], [1070, 50], [1076, 40], [1082, 38], [1088, 45], [1094, 37], [1100, 48], [1106, 36.5], [1112, 42], [1118, 35],
  [1124, 50], [1130, 34.5], [1136, 44], [1142, 34], [1148, 52], [1154, 33.5], [1160, 45], [1166, 33], [1172, 40], [1178, 32.5], [1184, 47], [1190, 32],
  [1196, 42], [1202, 31.5], [1208, 50], [1214, 31], [1220, 38], [1226, 30.5], [1232, 46], [1238, 30], [1244, 40], [1250, 29.5], [1256, 42], [1262, 29],
  [1268, 36], [1274, 30], [1280, 38], [1286, 31], [1292, 35], [1298, 32.5], [1304, 36], [1310, 33], [1316, 31], [1322, 34], [1328, 30.5], [1334, 32],
  [1340, 30], [1345, 33.5], [1347, 29.7], [1350, 29.5], [1357, 32], [1359, 29.1], [1370, 28.5], [1380, 28], [1390, 27.5], [1392, 30], [1394, 27.4],
  [1400, 27], [1405, 31], [1407, 26.8], [1420, 26.2], [1430, 25.8], [1440, 25.4], [1450, 25], [1460, 24.5], [1470, 24], [1480, 23.5], [1490, 23],
  [1500, 22.6], [1510, 22.1], [1513, 25], [1515, 22], [1520, 21.6], [1526, 24.5], [1528, 21.3], [1535, 20.9], [1541, 23.5], [1543, 20.5], [1550, 20.1],
  [1552, 24], [1555, 19.8], [1560, 19.5], [1567, 22.5], [1569, 19], [1575, 22], [1577, 18.6], [1582, 21], [1584, 18.3], [1590, 17.9], [1600, 17.4],
  [1610, 16.9], [1616, 19.5], [1618, 16.6], [1630, 15.9], [1640, 15.4], [1645, 19], [1647, 15.1], [1655, 14.7], [1665, 17], [1667, 14.2], [1680, 13.4],
  [1690, 16], [1692, 12.9], [1700, 12.4], [1707, 14.5], [1709, 12.0], [1720, 11.4], [1725, 15], [1727, 11.1], [1734, 13.5], [1736, 10.7], [1745, 13],
  [1747, 10.0], [1760, 9.4], [1770, 9.0], [1780, 8.6], [1790, 8.2], [1800, 7.8],
];

// ---------------- Panel 5 : mean radiance 1800-3020 cm-1 ----------------
const WN2_TICKS = [1800, 2000, 2200, 2400, 2600, 2800, 3000];
const RAD2_TICKS = [0, 1, 2, 3, 4, 5, 6, 7, 8];

const radMean2: P[] = [
  [1800, 8.2], [1801.5, 8.0], [1803, 7.9], [1805, 7.6], [1807, 7.8], [1810.4, 8.0], [1812.4, 7.6], [1814.5, 7.0], [1817.6, 7.5], [1819.7, 6.9],
  [1822.8, 7.5], [1828, 7.3], [1832, 7.1], [1837.3, 7.1], [1840.5, 6.8], [1843.6, 7.0], [1848.8, 6.8], [1851.9, 6.1], [1852.9, 5.7], [1855, 6.1],
  [1856.6, 6.3], [1858.1, 6.6], [1860.2, 5.9], [1862.9, 6.0], [1866.4, 6.4], [1870.5, 6.3], [1873.7, 5.3], [1875.7, 5.0], [1876.8, 5.6], [1877.8, 4.6],
  [1879.5, 5.7], [1880.9, 4.65], [1883, 4.9], [1884.4, 6.0], [1887.1, 5.3], [1889.6, 6.0], [1891.9, 5.4], [1895, 5.8], [1897.5, 4.9], [1899.6, 3.86],
  [1901.7, 4.63], [1904.4, 5.5], [1906.8, 5.4], [1908.9, 4.8], [1912, 4.5], [1914.1, 4.7], [1916.2, 5.2], [1918.3, 5.4], [1920.3, 5.2], [1922.4, 5.3],
  [1924.5, 5.1], [1926.6, 3.9], [1928.6, 3.08], [1930.7, 3.01], [1933.4, 4.9], [1935.5, 3.37], [1938, 3.9], [1940, 4.9], [1943.2, 4.6], [1945.2, 4.9],
  [1947.3, 3.8], [1949.4, 2.38], [1952.5, 2.59], [1954.6, 4.6], [1957, 3.23], [1960.8, 4.5], [1962.9, 2.87], [1966, 4.4], [1968.7, 3.1], [1971.2, 2.17],
  [1974.3, 1.67], [1976.3, 3.8], [1978.4, 1.39], [1981.1, 2.17], [1983.6, 2.02], [1986.7, 1.75], [1988.8, 2.45], [1990.9, 3.3], [1993, 4.0], [1995, 3.5],
  [1997.1, 1.88], [1999.2, 4.0], [2001.2, 1.25], [2004.4, 1.18], [2007.5, 1.81], [2009.5, 1.32], [2012.7, 1.5], [2016.8, 3.72], [2019.9, 2.6],
  [2022, 1.9], [2026, 2.8], [2030, 1.5], [2034, 2.5], [2038, 1.3], [2042, 2.2], [2046, 1.2], [2050, 1.9], [2054, 1.1], [2058, 1.7], [2062, 1.0],
  [2066, 1.5], [2070, 0.9], [2074, 1.4], [2078, 0.85], [2082, 1.3], [2086, 0.8], [2090, 1.2], [2094, 0.75], [2098, 1.1], [2102, 0.7], [2106, 1.0],
  [2110, 0.65], [2114, 0.9], [2118, 0.6], [2122, 0.85], [2126, 0.6], [2130, 0.8], [2134, 0.55], [2138, 0.75], [2142, 0.55], [2146, 0.7], [2150, 0.5],
  [2154, 0.7], [2158, 0.55], [2162, 0.75], [2166, 0.6], [2170, 0.8], [2174, 0.65], [2178, 0.85], [2182, 0.7], [2186, 0.9], [2190, 0.8], [2194, 1.0],
  [2198, 0.9], [2202, 1.1], [2206, 1.0], [2210, 1.2], [2214, 1.15], [2218, 1.3], [2222, 1.25], [2226, 1.4], [2230, 1.45], [2240, 1.5], [2300, 1.43],
  [2385, 1.03], [2390, 0.8], [2393, 0.6], [2396, 0.45], [2400, 0.4], [2420, 0.34], [2450, 0.3], [2500, 0.26], [2550, 0.22], [2600, 0.2], [2700, 0.17],
  [2800, 0.14], [2900, 0.12], [3000, 0.09], [3021, 0.08],
];

const radCloudy2: P[] = [
  [1800, 8.3], [1801.5, 8.16], [1803, 8.06], [1805, 7.8], [1807, 7.9], [1810.4, 8.1], [1812.4, 7.8], [1814.5, 7.1], [1817.6, 7.6], [1819.7, 6.96],
  [1822.8, 7.56], [1828, 7.35], [1832, 7.17], [1837.3, 7.17], [1840.5, 6.82], [1843.6, 7.1], [1848.8, 6.89], [1851.9, 6.61], [1852.9, 5.8], [1855, 6.2],
  [1856.6, 6.4], [1858.1, 6.68], [1860.2, 5.97], [1862.9, 6.1], [1866.4, 6.5], [1870.5, 6.4], [1873.7, 5.55], [1875.7, 5.27], [1876.8, 5.76], [1877.8, 4.99],
  [1879.5, 5.9], [1880.9, 4.99], [1883, 5.13], [1884.4, 6.08], [1887.1, 5.41], [1889.6, 6.05], [1891.9, 5.48], [1895, 5.87], [1897.5, 5.06], [1899.6, 4.56],
  [1901.7, 5.13], [1904.4, 5.62], [1906.8, 5.48], [1908.9, 5.06], [1912, 4.74], [1914.1, 4.85], [1916.2, 5.27], [1918.3, 5.48], [1920.3, 5.27], [1922.4, 5.38],
  [1924.5, 5.27], [1926.6, 4.28], [1928.6, 3.79], [1930.7, 3.72], [1933.4, 4.99], [1935.5, 3.79], [1938, 4.14], [1940, 4.99], [1943.2, 4.7], [1945.2, 4.99],
  [1947.3, 4.28], [1949.4, 3.79], [1952.5, 3.58], [1954.6, 4.78], [1957, 3.65], [1960.8, 4.63], [1962.9, 3.58], [1966, 4.56], [1968.7, 3.58], [1971.2, 3.01],
  [1974.3, 2.66], [1976.3, 3.96], [1978.4, 2.94], [1981.1, 3.01], [1983.6, 2.7], [1986.7, 3.01], [1988.8, 4.25], [1990.9, 3.65], [1993, 4.18], [1995, 3.72],
  [1997.1, 2.73], [1999.2, 4.0], [2001.2, 2.38], [2004.4, 2.24], [2007.5, 3.65], [2009.5, 2.45], [2012.7, 2.38], [2016.8, 3.79], [2019.9, 3.72],
  [2025, 3.2], [2030, 2.6], [2035, 3.8], [2040, 2.4], [2045, 3.4], [2050, 2.2], [2055, 3.0], [2060, 2.1], [2065, 2.9], [2070, 2.0], [2075, 2.6],
  [2080, 1.9], [2085, 2.8], [2090, 1.8], [2095, 2.4], [2100, 1.7], [2105, 2.5], [2110, 1.6], [2115, 2.2], [2120, 1.5], [2125, 2.1], [2130, 1.5],
  [2135, 1.9], [2140, 1.4], [2145, 1.8], [2150, 1.3], [2155, 1.7], [2160, 1.3], [2165, 1.5], [2170, 1.2], [2175, 1.5], [2180, 1.2], [2185, 1.4],
  [2190, 1.2], [2195, 1.3], [2200, 1.2], [2205, 1.35], [2210, 1.3], [2215, 1.4], [2220, 1.35], [2225, 1.45], [2230, 1.5], [2240, 1.52], [2250, 1.55],
  [2260, 1.56], [2270, 1.53], [2280, 1.5], [2290, 1.48], [2300, 1.45], [2310, 1.4], [2320, 1.36], [2330, 1.32], [2340, 1.28], [2350, 1.24], [2360, 1.2],
  [2370, 1.15], [2380, 1.1], [2385, 1.05], [2390, 0.95], [2393, 0.75], [2396, 0.62], [2400, 0.56], [2410, 0.52], [2430, 0.5], [2450, 0.48], [2500, 0.46],
  [2550, 0.44], [2600, 0.41], [2650, 0.38], [2700, 0.33], [2750, 0.28], [2800, 0.24], [2850, 0.2], [2900, 0.16], [2950, 0.12], [3000, 0.09], [3021, 0.08],
];

// ---------------- layout / style ----------------
const FAMILY = '"DejaVu Sans", sans-serif';
const AX_BLUE = "#0072BD";
const AX_DARK = "#262626";
const W = 3825;
const PLOT_LEFT = 375.4;
const PLOT_RIGHT = 3003;
const PLOT_H = 907.5;
const PAD_TOP = 100;
const X_BOX = 200;
const CANVAS_H = PAD_TOP + PLOT_H + X_BOX;
const TICK_FONT = 40;
const LEGEND_FONT = 39;
const TITLE_FONT = 47;

type Series = { pts: P[]; color: string; width: number };
type LegendItem = { runs: Run[]; color: string; width: number };
type Panel = {
  top: number;
  xMin: number; xMax: number; yMin: number; yMax: number;
  xTicks: number[]; yTicks: number[];
  series: Series[];
  patches?: [number, number][]; patchY?: [number, number];
  legend: LegendItem[]; legX0: number; legX1: number; legTx: number; legY0: number; legDy: number;
  xTitle: Run[]; xTitleDy: number; yTitle: Run[]; yTitleX: number;
};

const PATCHES: [number, number][] = [[0, 8.3], [20.83, 24]];
const deg = (n: string): Run[] => [{ t: n }, { t: " o ", sup: true }, { t: " WRT Nadir" }];

const PANELS: Panel[] = [
  {
    top: 295.6, xMin: 0, xMax: 24, yMin: 170, yMax: 305, xTicks: HOUR_TICKS, yTicks: BT_TICKS,
    series: [
      { pts: bt85, color: "#A52A2A", width: 8.5 },
      { pts: bt95, color: "#FFA500", width: 8.5 },
      { pts: bt125, color: "#008000", width: 8.5 },
      { pts: bt180, color: "#0000FF", width: 8.5 },
    ],
    patches: PATCHES, patchY: [168.8, 305],
    legend: [
      { runs: deg("85"), color: "#A52A2A", width: 10 },
      { runs: deg("95"), color: "#FFA500", width: 10 },
      { runs: deg("125"), color: "#008000", width: 10 },
      { runs: deg("180"), color: "#0000FF", width: 10 },
    ],
    legX0: 2276, legX1: 2510, legTx: 2535, legY0: 126.7, legDy: 67.5,
    xTitle: [{ t: "UTC hours on 20250216" }], xTitleDy: 133,
    yTitle: [{ t: "AERI 985-900 cm" }, { t: "-1", sup: true }, { t: " (Window) BT" }], yTitleX: 235,
  },
  {
    top: 1420.4, xMin: 0, xMax: 24, yMin: 170, yMax: 305, xTicks: HOUR_TICKS, yTicks: BT_TICKS,
    series: [
      { pts: bt180, color: "#0000FF", width: 8.5 },
      { pts: bt2510, color: "#ADD8E6", width: 4.5 },
    ],
    patches: PATCHES, patchY: [170, 305],
    legend: [
      { runs: [{ t: "AERI 985-900 cm " }, { t: "-1", sup: true }, { t: " (Window)" }], color: "#0000FF", width: 8.5 },
      { runs: [{ t: "AERI 2510-2515 cm" }, { t: "-1", sup: true }, { t: " (Window)" }], color: "#ADD8E6", width: 4.5 },
    ],
    legX0: 595, legX1: 828, legTx: 854, legY0: 533.9, legDy: 68,
    xTitle: [{ t: "UTC hours on 20250216" }], xTitleDy: 133,
    yTitle: [{ t: "Zenith BTs, K" }], yTitleX: 235,
  },
  {
    top: 2546, xMin: 0, xMax: 24, yMin: 276.2, yMax: 296.25, xTicks: HOUR_TICKS, yTicks: SFC_TICKS,
    series: [
      { pts: bt675, color: "#FFA500", width: 8.5 },
      { pts: bt700, color: "#0000FF", width: 8.5 },
      { pts: bt2295, color: "#A52A2A", width: 4.5 },
      { pts: bt2282, color: "#ADD8E6", width: 4.5 },
    ],
    patches: PATCHES, patchY: [278, 296.25],
    legend: [
      { runs: [{ t: "AERI 675-680 cm " }, { t: "-1", sup: true }, { t: " (Surf Air)" }], color: "#FFA500", width: 8.5 },
      { runs: [{ t: "AERI 700-705 cm " }, { t: "-1", sup: true }], color: "#0000FF", width: 8.5 },
      { runs: [{ t: "AERI 2295-2300 cm" }, { t: "-1", sup: true }, { t: " (Surf Air)" }], color: "#A52A2A", width: 5 },
      { runs: [{ t: "AERI 2282-2287 cm" }, { t: "-1", sup: true }], color: "#ADD8E6", width: 4.5 },
    ],
    legX0: 1909, legX1: 2143, legTx: 2168, legY0: 126.3, legDy: 67.3,
    xTitle: [{ t: "UTC hours on 20250216" }], xTitleDy: 133,
    yTitle: [{ t: "Zenith BTs, K" }], yTitleX: 235,
  },
  {
    top: 3670.4, xMin: 520, xMax: 1800, yMin: 1.6, yMax: 140, xTicks: WN1_TICKS, yTicks: RAD1_TICKS,
    series: [
      { pts: radMean1, color: "#000000", width: 5 },
      { pts: radCloudy1, color: "#FF0000", width: 5 },
    ],
    legend: [
      { runs: [{ t: "Mean Radiance 0 to 24h UTC 20250216" }], color: "#000000", width: 5.3 },
      { runs: [{ t: "... cloudy" }], color: "#FF0000", width: 4.7 },
    ],
    legX0: 1831, legX1: 2065, legTx: 2090, legY0: 66.9, legDy: 57,
    xTitle: [{ t: "Wavenumber, cm" }, { t: "-1", sup: true }], xTitleDy: 141,
    yTitle: [{ t: "Mean Radiance, mW/(m" }, { t: "2", sup: true }, { t: " sr cm" }, { t: "-1", sup: true }, { t: ")" }], yTitleX: 235,
  },
  {
    top: 4795.6, xMin: 1800, xMax: 3021, yMin: -0.36, yMax: 8.76, xTicks: WN2_TICKS, yTicks: RAD2_TICKS,
    series: [
      { pts: radMean2, color: "#000000", width: 5 },
      { pts: radCloudy2, color: "#FF0000", width: 5 },
    ],
    legend: [
      { runs: [{ t: "Mean Radiance 0 to 24h UTC 20250216" }], color: "#000000", width: 5.3 },
      { runs: [{ t: "... cloudy" }], color: "#FF0000", width: 4.7 },
    ],
    legX0: 1831, legX1: 2065, legTx: 2090, legY0: 66.9, legDy: 57,
    xTitle: [{ t: "Wavenumber, cm" }, { t: "-1", sup: true }], xTitleDy: 141,
    yTitle: [{ t: "Mean Radiance, mW/(m" }, { t: "2", sup: true }, { t: " sr cm" }, { t: "-1", sup: true }, { t: ")" }], yTitleX: 283,
  },
];

// ---------------- rich text helpers ----------------
function runFont(size: number, sup?: boolean) {
  return `${sup ? Math.round(size * 0.72) : size}px ${FAMILY}`;
}
function runsWidth(ctx: CanvasRenderingContext2D, runs: Run[], size: number) {
  let w = 0;
  for (const r of runs) {
    ctx.font = runFont(size, r.sup);
    w += ctx.measureText(r.t).width;
  }
  return w;
}
function drawRuns(ctx: CanvasRenderingContext2D, runs: Run[], x: number, y: number, size: number, color: string, center: boolean) {
  const w = runsWidth(ctx, runs, size);
  let cx = center ? x - w / 2 : x;
  ctx.fillStyle = color;
  ctx.textAlign = "left";
  ctx.textBaseline = "alphabetic";
  for (const r of runs) {
    ctx.font = runFont(size, r.sup);
    ctx.fillText(r.t, cx, r.sup ? y - size * 0.45 : y);
    cx += ctx.measureText(r.t).width;
  }
}

const overlayPlugin = {
  id: "panelOverlay",
  afterDatasetsDraw(chart: any, _args: any, opts: any) {
    const p: Panel = opts.panel;
    const { ctx, chartArea: ca, scales } = chart;
    const xs = scales.x;
    const ys = scales.y;
    ctx.save();
    // inward tick marks
    ctx.lineWidth = 2;
    ctx.strokeStyle = AX_BLUE;
    for (const v of p.yTicks) {
      const y = Math.round(ys.getPixelForValue(v)) + 0.5;
      ctx.beginPath();
      ctx.moveTo(ca.left, y);
      ctx.lineTo(ca.left + 27, y);
      ctx.stroke();
    }
    ctx.strokeStyle = AX_DARK;
    for (const v of p.xTicks) {
      const x = xs.getPixelForValue(v);
      ctx.beginPath();
      ctx.moveTo(x, ca.bottom);
      ctx.lineTo(x, ca.bottom - 28);
      ctx.stroke();
    }
    // axis lines
    ctx.lineWidth = 3;
    ctx.strokeStyle = AX_BLUE;
    ctx.beginPath();
    ctx.moveTo(ca.left, ca.top);
    ctx.lineTo(ca.left, ca.bottom);
    ctx.moveTo(ca.right, ca.top);
    ctx.lineTo(ca.right, ca.bottom);
    ctx.stroke();
    ctx.strokeStyle = AX_DARK;
    ctx.beginPath();
    ctx.moveTo(ca.left, ca.bottom);
    ctx.lineTo(ca.right, ca.bottom);
    ctx.stroke();
    // translucent yellow patches drawn over the data
    if (p.patches && p.patchY) {
      ctx.fillStyle = "rgba(255,255,0,0.15)";
      const y0 = ys.getPixelForValue(p.patchY[1]);
      const y1 = ys.getPixelForValue(p.patchY[0]);
      for (const [a, b] of p.patches) {
        const x0 = xs.getPixelForValue(a);
        const x1 = xs.getPixelForValue(b);
        ctx.fillRect(x0, y0, x1 - x0, y1 - y0);
      }
    }
    // legend
    p.legend.forEach((it, i) => {
      const y = ca.top + p.legY0 + i * p.legDy;
      ctx.strokeStyle = it.color;
      ctx.lineWidth = it.width;
      ctx.lineCap = "butt";
      ctx.beginPath();
      ctx.moveTo(p.legX0, y);
      ctx.lineTo(p.legX1, y);
      ctx.stroke();
      drawRuns(ctx, it.runs, p.legTx, y + LEGEND_FONT * 0.38, LEGEND_FONT, "#000000", false);
    });
    // axis titles
    drawRuns(ctx, p.xTitle, (ca.left + ca.right) / 2, ca.bottom + p.xTitleDy, TITLE_FONT, AX_DARK, true);
    ctx.save();
    ctx.translate(p.yTitleX, (ca.top + ca.bottom) / 2);
    ctx.rotate(-Math.PI / 2);
    drawRuns(ctx, p.yTitle, 0, 0, TITLE_FONT, AX_BLUE, true);
    ctx.restore();
    ctx.restore();
  },
};

function buildConfig(p: Panel): any {
  const n = p.series.length;
  return {
    type: "scatter",
    data: {
      // later series are painted on top of earlier ones (lower `order` = drawn last)
      datasets: p.series.map((s, i) => ({
        data: s.pts.map(([x, y]) => ({ x, y })),
        order: n - i,
        borderColor: s.color,
        backgroundColor: s.color,
        borderWidth: s.width,
        showLine: true,
        pointRadius: 0,
        pointHoverRadius: 0,
        fill: false,
        tension: 0,
        spanGaps: false,
        borderJoinStyle: "round",
        borderCapStyle: "butt",
      })),
    },
    options: {
      animation: false,
      responsive: false,
      devicePixelRatio: 1,
      events: [],
      layout: { padding: { top: PAD_TOP, right: W - PLOT_RIGHT, left: 0, bottom: 0 } },
      plugins: {
        legend: { display: false },
        tooltip: { enabled: false },
        panelOverlay: { panel: p },
      },
      scales: {
        x: {
          type: "linear",
          position: "bottom",
          min: p.xMin,
          max: p.xMax,
          grid: { display: false, drawTicks: false },
          border: { display: false },
          ticks: {
            color: AX_DARK,
            font: { family: FAMILY, size: TICK_FONT },
            padding: 33,
            maxRotation: 0,
            autoSkip: false,
            callback: (v: any) => String(v),
          },
          afterBuildTicks: (s: any) => {
            s.ticks = p.xTicks.map((v) => ({ value: v }));
          },
          afterFit: (s: any) => {
            s.height = X_BOX;
          },
        },
        y: {
          type: "linear",
          position: "left",
          min: p.yMin,
          max: p.yMax,
          grid: { display: false, drawTicks: false },
          border: { display: false },
          ticks: {
            color: AX_BLUE,
            font: { family: FAMILY, size: TICK_FONT },
            padding: 28,
            autoSkip: false,
            callback: (v: any) => String(v),
          },
          afterBuildTicks: (s: any) => {
            s.ticks = p.yTicks.map((v) => ({ value: v }));
          },
          afterFit: (s: any) => {
            s.width = PLOT_LEFT;
          },
        },
      },
    },
    plugins: [overlayPlugin],
  };
}

export default function App() {
  const refs = useRef<(HTMLCanvasElement | null)[]>([]);
  useEffect(() => {
    const charts = PANELS.map((p, i) => new Chart(refs.current[i] as HTMLCanvasElement, buildConfig(p)));
    return () => charts.forEach((c) => c.destroy());
  }, []);
  return (
    <div style={{ position: "absolute", left: 0, top: 0, width: W, height: 6000, background: "#ffffff", overflow: "hidden" }}>
      {PANELS.map((p, i) => (
        <canvas
          key={i}
          ref={(el) => {
            refs.current[i] = el;
          }}
          width={W}
          height={CANVAS_H}
          style={{ position: "absolute", left: 0, top: p.top - PAD_TOP, width: W, height: CANVAS_H }}
        />
      ))}
    </div>
  );
}
